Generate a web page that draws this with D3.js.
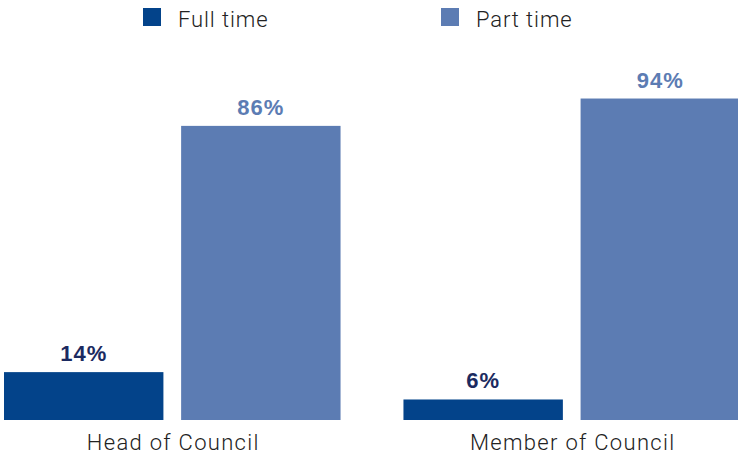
<!DOCTYPE html>
<html>
<head>
<meta charset="utf-8">
<script src="https://cdn.jsdelivr.net/npm/d3@7"></script>
<style>
  body { margin: 0; background: #fff; }
  svg { display: block; }
</style>
</head>
<body>
<div id="chart"></div>
<script>
// chart data
let categories = ["Head of Council", "Member of Council"];
let seriesNames = ["Full time", "Part time"];
let fullTime = [14, 6];
let partTime = [86, 94];

let width = 738;
let height = 456;
let baseY = 420;

let colors = {"Full time": "#03438a", "Part time": "#5c7cb3"};
let labelColors = {"Full time": "#1b2a60", "Part time": "#5c7cb3"};

let rows = categories.map(function(c, i) {
  return {cat: c, values: [
    {key: "Full time", value: fullTime[i]},
    {key: "Part time", value: partTime[i]}
  ]};
});

let svg = d3.select("#chart")
  .append("svg")
  .attr("width", width)
  .attr("height", height);

// group scale and inner scale
let x0 = d3.scaleBand()
  .domain(categories)
  .range([4, 740])
  .paddingInner(0.1575);

let x1 = d3.scaleBand()
  .domain(seriesNames)
  .range([0, x0.bandwidth()])
  .paddingInner(0.1);

let y = d3.scaleLinear()
  .domain([0, 100])
  .range([baseY, baseY - 342]);

let groups = svg.selectAll(".group")
  .data(rows)
  .enter()
  .append("g")
  .attr("class", "group")
  .attr("transform", function(d) { return "translate(" + x0(d.cat) + ",0)"; });

groups.selectAll("rect")
  .data(function(d) { return d.values; })
  .enter()
  .append("rect")
  .attr("x", function(d) { return x1(d.key); })
  .attr("y", function(d) { return y(d.value); })
  .attr("width", x1.bandwidth())
  .attr("height", function(d) { return baseY - y(d.value); })
  .attr("fill", function(d) { return colors[d.key]; });

// value labels
groups.selectAll(".val")
  .data(function(d) { return d.values; })
  .enter()
  .append("text")
  .attr("class", "val")
  .attr("x", function(d) { return x1(d.key) + x1.bandwidth() / 2; })
  .attr("y", function(d) { return y(d.value) - 11; })
  .attr("text-anchor", "middle")
  .style("font-family", "'Liberation Sans', Arial, sans-serif")
  .style("font-weight", "bold")
  .style("font-size", "22px")
  .style("letter-spacing", "1px")
  .attr("fill", function(d) { return labelColors[d.key]; })
  .text(function(d) { return d.value + "%"; });

// category labels
groups.append("text")
  .attr("x", x0.bandwidth() / 2 + 1)
  .attr("y", 450)
  .attr("text-anchor", "middle")
  .style("font-family", "Roboto, 'Liberation Sans', sans-serif")
  .style("font-weight", "300")
  .style("font-size", "22px")
  .style("letter-spacing", "1.3px")
  .attr("fill", "#222")
  .text(function(d) { return d.cat; });

// legend
let legendX = [143, 441];
let legend = svg.selectAll(".legend")
  .data(seriesNames)
  .enter()
  .append("g")
  .attr("class", "legend")
  .attr("transform", function(d, i) { return "translate(" + legendX[i] + ",0)"; });

legend.append("rect")
  .attr("x", 0)
  .attr("y", 8)
  .attr("width", 18)
  .attr("height", 18)
  .attr("fill", function(d) { return colors[d]; });

legend.append("text")
  .attr("x", 35)
  .attr("y", 27)
  .style("font-family", "Roboto, 'Liberation Sans', sans-serif")
  .style("font-weight", "300")
  .style("font-size", "22px")
  .style("letter-spacing", "0.9px")
  .attr("fill", "#222")
  .text(function(d) { return d; });
</script>
</body>
</html>
